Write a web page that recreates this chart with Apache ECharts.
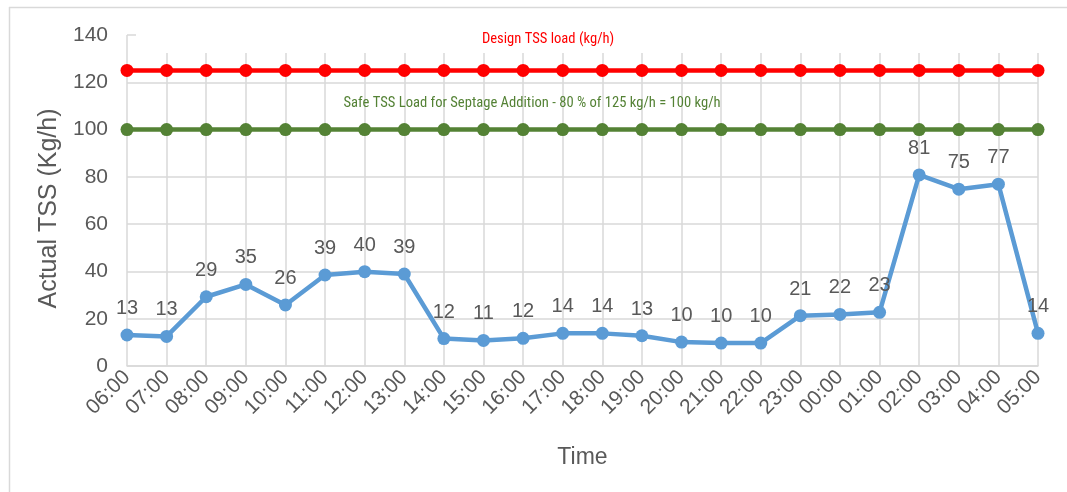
<!DOCTYPE html>
<html><head><meta charset="utf-8">
<script src="https://cdn.jsdelivr.net/npm/echarts@6/dist/echarts.min.js"></script>
<style>html,body{margin:0;padding:0;background:#fff}#c{width:1067px;height:492px}</style>
</head><body><div id="c"></div>
<script>
const categories = ['06:00','07:00','08:00','09:00','10:00','11:00','12:00','13:00','14:00','15:00','16:00','17:00','18:00','19:00','20:00','21:00','22:00','23:00','00:00','01:00','02:00','03:00','04:00','05:00'];
const actualTSS = [13.1,12.5,29.3,34.5,25.8,38.5,39.9,38.9,11.6,10.8,11.7,13.8,13.8,12.8,10.1,9.7,9.7,21.3,21.8,22.7,80.8,74.8,76.9,13.8];
const designTSS = [125,125,125,125,125,125,125,125,125,125,125,125,125,125,125,125,125,125,125,125,125,125,125,125];
const safeTSS = [100,100,100,100,100,100,100,100,100,100,100,100,100,100,100,100,100,100,100,100,100,100,100,100];
const yTicks = {min:0, max:140, interval:20};
const designLabel = 'Design TSS load (kg/h)';
const safeLabel = 'Safe TSS Load for Septage Addition - 80 % of 125 kg/h = 100 kg/h';
const labelIndex = 10;

const chart = echarts.init(document.getElementById('c'));
const gray = '#595959';
const font = '"Liberation Sans", Arial, sans-serif';
function withLabel(arr, text, color, offset){
  return arr.map((v,i)=> i===labelIndex ? {value:v, label:{show:true, formatter:text, position:'inside', offset:offset, color:color, fontSize:14.6, fontFamily:'"Liberation Sans Narrow", "Roboto Condensed", Roboto, sans-serif'}} : v);
}
chart.setOption({
  animation:false,
  textStyle:{fontFamily:font},
  grid:{left:127, right:29, top:35, bottom:126},
  graphic:[
    {type:'rect', z:1, shape:{x:136, y:28, width:931, height:25}, style:{fill:'#fff'}},
    {type:'line', z:1, shape:{x1:9, y1:7.5, x2:1067, y2:7.5}, style:{stroke:'#d9d9d9', lineWidth:1.5}},
    {type:'line', z:1, shape:{x1:9.5, y1:7, x2:9.5, y2:492}, style:{stroke:'#d9d9d9', lineWidth:1.5}}
  ],
  xAxis:{
    type:'category', data:categories, boundaryGap:false,
    name:'Time', nameLocation:'middle', nameGap:80,
    nameTextStyle:{color:gray, fontSize:23, fontFamily:font},
    axisLine:{lineStyle:{color:'#d9d9d9', width:1.5}},
    axisTick:{show:false},
    axisLabel:{rotate:45, color:gray, fontSize:21, margin:8, fontFamily:font, interval:0},
    splitLine:{show:true, lineStyle:{color:'#d9d9d9', width:1.5}}
  },
  yAxis:{
    type:'value', min:yTicks.min, max:yTicks.max, interval:yTicks.interval,
    name:'Actual TSS (Kg/h)', nameLocation:'middle', nameGap:58,
    nameTextStyle:{color:gray, fontSize:25, fontFamily:font, padding:[0,16,0,0]},
    axisLine:{show:false}, axisTick:{show:false},
    axisLabel:{color:gray, fontSize:21, margin:19, fontFamily:font},
    splitLine:{lineStyle:{color:'#d9d9d9', width:1.5}}
  },
  series:[
    {type:'line', name:'Design', data:withLabel(designTSS, designLabel, '#ff0000', [25,-31]), z:3,
     symbol:'circle', symbolSize:13, lineStyle:{color:'#ff0000', width:4.5}, itemStyle:{color:'#ff0000'}},
    {type:'line', name:'Safe', data:withLabel(safeTSS, safeLabel, '#548235', [9,-26]), z:3,
     symbol:'circle', symbolSize:13, lineStyle:{color:'#548235', width:4.5}, itemStyle:{color:'#548235'}},
    {type:'line', name:'Actual', data:actualTSS, z:3,
     symbol:'circle', symbolSize:13, lineStyle:{color:'#5b9bd5', width:4.5}, itemStyle:{color:'#5b9bd5'},
     label:{show:true, position:'top', distance:10, color:gray, fontSize:20, fontFamily:font,
       formatter:p=>Math.round(p.value)}}
  ]
});
</script></body></html>
